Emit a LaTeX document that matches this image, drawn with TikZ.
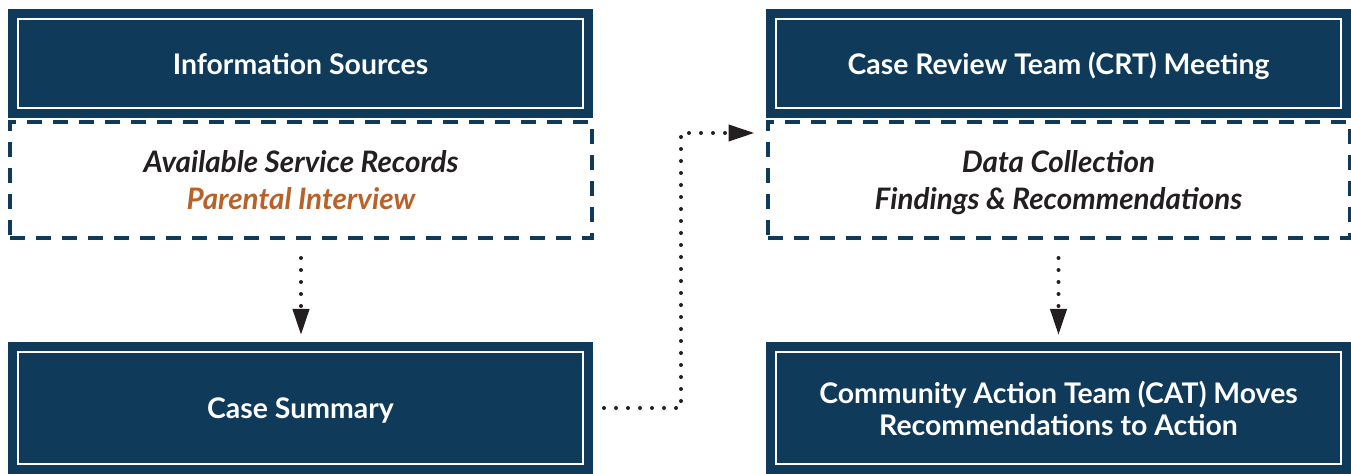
\documentclass[tikz,border=0pt]{standalone}
\usepackage{fontspec}
\setmainfont{Lato}
\usetikzlibrary{arrows.meta,calc}
\definecolor{navy}{RGB}{15,58,90}
\definecolor{rust}{RGB}{184,98,42}
\definecolor{ink}{RGB}{35,31,32}
\tikzstyle{titlebox} = [fill=navy, draw=white, line width=1pt, preaction={draw=navy, line width=10pt}, text=white, font=\bfseries\fontsize{14.2}{16}\selectfont, minimum width=282.5pt, text depth=0pt, align=center, inner sep=0pt]
\tikzstyle{notebox} = [draw=navy, line width=2pt, dash pattern=on 7.5pt off 5.5pt, minimum width=291pt, minimum height=58pt, text=ink, font=\bfseries\itshape\fontsize{14.8}{18.5}\selectfont, text depth=0pt, align=center]
\tikzstyle{flow} = [draw=ink, line width=2pt, line cap=round, dash pattern=on 0pt off 6pt, -{Triangle[length=13pt,width=8pt]}]

\begin{document}
\begin{tikzpicture}[x=0.5pt, y=-0.5pt]
	\useasboundingbox (0,0) rectangle (1351,474);
	% left column
	\node[titlebox, minimum height=44.5pt] (infosrc) at (300.5,63.5) {Information Sources};
	\node[notebox] (infonotes) at (301,180) {Available Service Records\\\textcolor{rust}{Parental Interview}};
	\node[titlebox, minimum height=56pt] (summary) at (300.5,408) {Case Summary};
	% right column
	\node[titlebox, minimum height=44.5pt] (crt) at (1058.5,63.5) {Case Review Team (CRT) Meeting};
	\node[notebox] (crtnotes) at (1058.5,180) {Data Collection\\Findings \& Recommendations};
	\node[titlebox, minimum height=56pt] (cat) at (1058.5,408) {Community Action Team (CAT) Moves\\Recommendations to Action};

	\draw[flow, shorten <=9pt, shorten >=8pt] (infonotes.south) -- (infonotes.south |- summary.north);
	\draw[flow, shorten <=9pt, shorten >=8pt] (crtnotes.south) -- (crtnotes.south |- cat.north);
	\draw[flow, shorten <=10pt, shorten >=5.5pt] (summary.east) -- ++(97,0) |- ($(crtnotes.north west)+(0,13)$);
\end{tikzpicture}
\end{document}
